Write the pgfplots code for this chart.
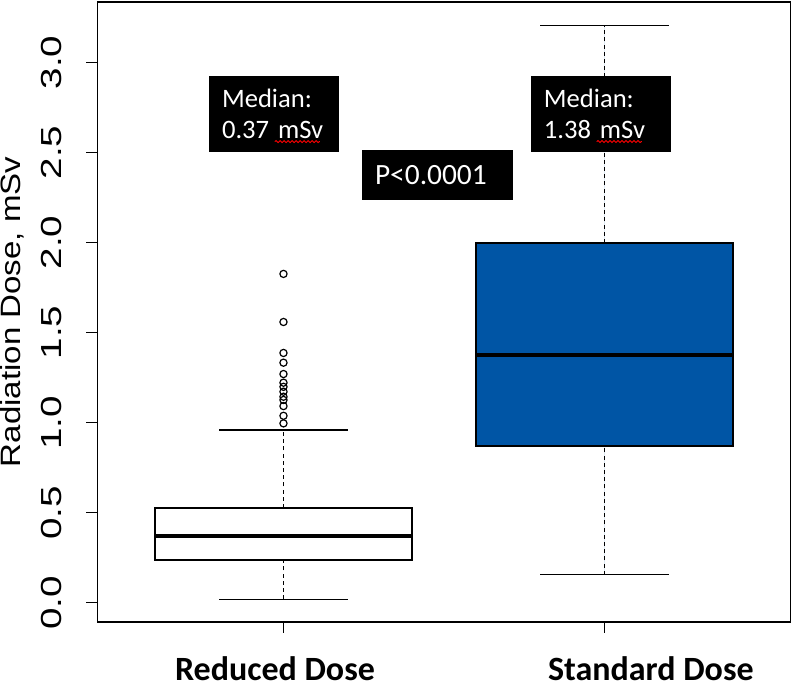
\documentclass[border=0pt]{standalone}
\usepackage{fontspec}
\setmainfont{Liberation Sans}
\newfontfamily\calibri{Carlito}
\usepackage{pgfplots}
\pgfplotsset{compat=1.18}
\usepgfplotslibrary{statistics}
\usetikzlibrary{decorations.pathmorphing}
\definecolor{doseblue}{RGB}{0,85,165}

\pgfplotsset{
  rbox/.style={
    boxplot/draw direction=y,
    boxplot/draw/lower whisker/.code={
      \draw[line width=0.6pt, dash pattern=on 2pt off 1.6pt] (boxplot box cs:\pgfplotsboxplotvalue{lower whisker},0.5) -- (boxplot box cs:\pgfplotsboxplotvalue{lower quartile},0.5);
      \draw[line width=0.6pt] (boxplot whisker cs:\pgfplotsboxplotvalue{lower whisker},0) -- (boxplot whisker cs:\pgfplotsboxplotvalue{lower whisker},1);
    },
    boxplot/draw/upper whisker/.code={
      \draw[line width=0.6pt, dash pattern=on 2pt off 1.6pt] (boxplot box cs:\pgfplotsboxplotvalue{upper quartile},0.5) -- (boxplot box cs:\pgfplotsboxplotvalue{upper whisker},0.5);
      \draw[line width=0.6pt] (boxplot whisker cs:\pgfplotsboxplotvalue{upper whisker},0) -- (boxplot whisker cs:\pgfplotsboxplotvalue{upper whisker},1);
    },
    boxplot/every median/.style={line width=2pt},
    boxplot/box extend=0.8,
    boxplot/whisker extend=0.4,
    draw=black, line width=0.65pt,
    mark=o, mark size=1.8pt, mark options={line width=0.6pt},
  },
}
\tikzset{
  medbox/.style={fill=black, text=white, align=left, inner xsep=6.5pt,
    minimum height=38pt, font=\calibri\fontsize{13.3}{15.3}\selectfont},
  spell/.style={red, line width=0.45pt,
    decorate, decoration={snake, segment length=2pt, amplitude=0.5pt}},
}
\newlength\wa \newlength\wb
\settowidth\wa{\calibri\fontsize{13.3}{15.3}\selectfont 0.37 }%
\settowidth\wb{\calibri\fontsize{13.3}{15.3}\selectfont mSv}%

\begin{document}
\begin{tikzpicture}
\begin{axis}[
  at={(48.65pt,32pt)}, anchor=south west,
  scale only axis, width=346.7pt, height=310pt,
  xmin=0.42, xmax=2.58, ymin=-0.107, ymax=3.336,
  axis line style={line width=0.75pt},
  tick pos=left, tick align=outside, major tick length=5.5pt,
  every tick/.style={black, line width=0.7pt},
  xtick={0.9736,2.1443}, xticklabels={Reduced Dose, Standard Dose},
  xtick style={draw=none},
  extra x ticks={1,2}, extra x tick labels={},
  extra x tick style={xtick style={draw=black}},
  xticklabel style={font=\calibri\bfseries\fontsize{17}{20}\selectfont, anchor=base,
    inner sep=0pt, yshift=-24pt},
  ytick={0,0.5,1,1.5,2,2.5,3},
  yticklabel style={font=\fontsize{14.5}{17}\selectfont, rotate=90, xscale=1.33,
    anchor=south, inner xsep=1pt, inner ysep=12.2pt},
  /pgf/number format/fixed, /pgf/number format/fixed zerofill,
  /pgf/number format/precision=1, /pgf/number format/assume math mode=true,
  ylabel={Radiation Dose, mSv},
  ylabel style={font=\fontsize{14}{17}\selectfont, at={(rel axis cs:-0.111,0.5)},
    anchor=base, xscale=1.18},
  clip=false,
]
% Reduced dose
\addplot[rbox, fill=white, boxplot prepared={
  lower whisker=0.020, lower quartile=0.237, median=0.370,
  upper quartile=0.526, upper whisker=0.959, draw position=1}]
  table[row sep=\\, y index=0] {
  1.826\\ 1.559\\ 1.387\\ 1.333\\ 1.270\\ 1.222\\ 1.199\\ 1.172\\ 1.144\\ 1.126\\ 1.092\\ 1.038\\ 0.996\\
};
% Standard dose
\addplot[rbox, fill=doseblue, boxplot prepared={
  lower whisker=0.155, lower quartile=0.870, median=1.378,
  upper quartile=1.998, upper whisker=3.205, draw position=2}]
  coordinates {};

\node[medbox, text width=52pt] (m1) at (axis cs:0.9705,2.714) {Median:\\0.37 mSv};
\node[medbox, text width=57pt] (m2) at (axis cs:1.989,2.714) {Median:\\1.38 mSv};
\draw[spell] ([xshift=6.5pt+\wa, yshift=-13.8pt]m1.west) -- ++(\wb,0pt);
\draw[spell] ([xshift=6.5pt+\wa, yshift=-13.8pt]m2.west) -- ++(\wb,0pt);
\node[fill=black, text=white, align=left, text width=62.5pt, inner xsep=6.5pt,
  minimum height=25pt, font=\calibri\fontsize{14.7}{17}\selectfont]
  at (axis cs:1.4798,2.3756) {P<0.0001};
\end{axis}
\pgfresetboundingbox
\path[use as bounding box] (0,0) rectangle (400pt,343pt);
\end{tikzpicture}
\end{document}
